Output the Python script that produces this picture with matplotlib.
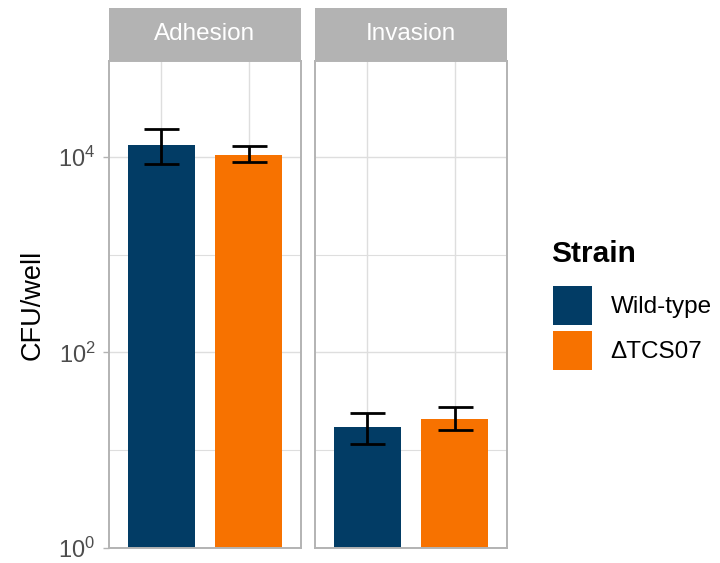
import numpy as np
import matplotlib
matplotlib.use("Agg")
import matplotlib.pyplot as plt
from matplotlib.patches import Patch
from matplotlib.ticker import FixedLocator, NullFormatter

plt.rcParams['font.family'] = ['Liberation Sans', 'DejaVu Sans']

# data (CFU per well, log scale)
facets = ["Adhesion", "Invasion"]
strains = ["Wild-type", "\u0394TCS07"]
colors = ["#023C65", "#F77200"]
means = {"Adhesion": [13200, 10500], "Invasion": [17.3, 20.7]}
err_low = {"Adhesion": [8350, 8900], "Invasion": [11.7, 16.1]}
err_high = {"Adhesion": [19300, 12850], "Invasion": [24.2, 27.5]}
major_exp = [0, 2, 4]
minor_exp = [1, 3, 5]

W, H = 720, 563
fig = plt.figure(figsize=(W / 100, H / 100), dpi=100)

grey70 = "#B3B3B3"
grid_c = "#DEDEDE"
panel_x = [109, 315]
panel_w = 192
top, bottom = 61, 548
strip_top = 8

x = np.arange(len(strains))
for i, facet in enumerate(facets):
    ax = fig.add_axes([panel_x[i] / W, (H - bottom) / H, panel_w / W, (bottom - top) / H])
    ax.set_yscale("log")
    ax.set_ylim(1, 10 ** 4.98)
    ax.set_xlim(-0.6, 1.6)
    m = np.array(means[facet])
    lo = m - np.array(err_low[facet])
    hi = np.array(err_high[facet]) - m
    ax.bar(x, m - 1, bottom=1, width=0.76, color=colors, zorder=2)
    ax.errorbar(x, m, yerr=[lo, hi], fmt="none", ecolor="black",
                elinewidth=2.0, capsize=12.6, capthick=2.0, zorder=3)

    ax.yaxis.set_major_locator(FixedLocator([10.0 ** e for e in major_exp]))
    ax.yaxis.set_minor_locator(FixedLocator([10.0 ** e for e in minor_exp]))
    ax.yaxis.set_minor_formatter(NullFormatter())
    ax.set_xticks(x)
    ax.set_xticklabels([])
    ax.grid(True, which="major", color=grid_c, lw=1.0, zorder=0)
    ax.grid(True, which="minor", axis="y", color=grid_c, lw=0.8, zorder=0)
    ax.set_axisbelow(True)
    ax.tick_params(axis="x", length=0)
    ax.tick_params(axis="y", which="minor", length=0)
    for s in ax.spines.values():
        s.set_color(grey70)
        s.set_linewidth(1.4)
    if i == 0:
        ax.set_yticklabels([r"$\mathdefault{10^{%d}}$" % e for e in major_exp])
        ax.tick_params(axis="y", which="major", length=4.3, width=1.0,
                       color=grey70, labelcolor="#4D4D4D", labelsize=17, pad=5.5)
        ax.set_ylabel("CFU/well", fontsize=19.5, labelpad=9)
    else:
        ax.tick_params(axis="y", which="major", length=0, labelleft=False)

    # facet strip
    sax = fig.add_axes([panel_x[i] / W, (H - top) / H, panel_w / W, (top - strip_top) / H])
    sax.set_facecolor(grey70)
    sax.set_xticks([])
    sax.set_yticks([])
    for s in sax.spines.values():
        s.set_visible(False)
    sax.text(0.5, 0.5, facet, color="white", fontsize=17.5,
             ha="center", va="center", transform=sax.transAxes)

# legend: title placed separately, keys below
fig.text(551 / W, 1 - 262 / H, "Strain", fontsize=21.5, fontweight="bold",
         ha="left", va="baseline")
handles = [Patch(facecolor=c, edgecolor="none") for c in colors]
fig.legend(handles, strains, loc="upper left",
           bbox_to_anchor=(553 / W, 1 - 286 / H), frameon=False,
           fontsize=17.5, handlelength=1.62, handleheight=2.08,
           handletextpad=0.75, labelspacing=0.26, borderpad=0,
           borderaxespad=0)

fig.savefig("out.png", dpi=100)
